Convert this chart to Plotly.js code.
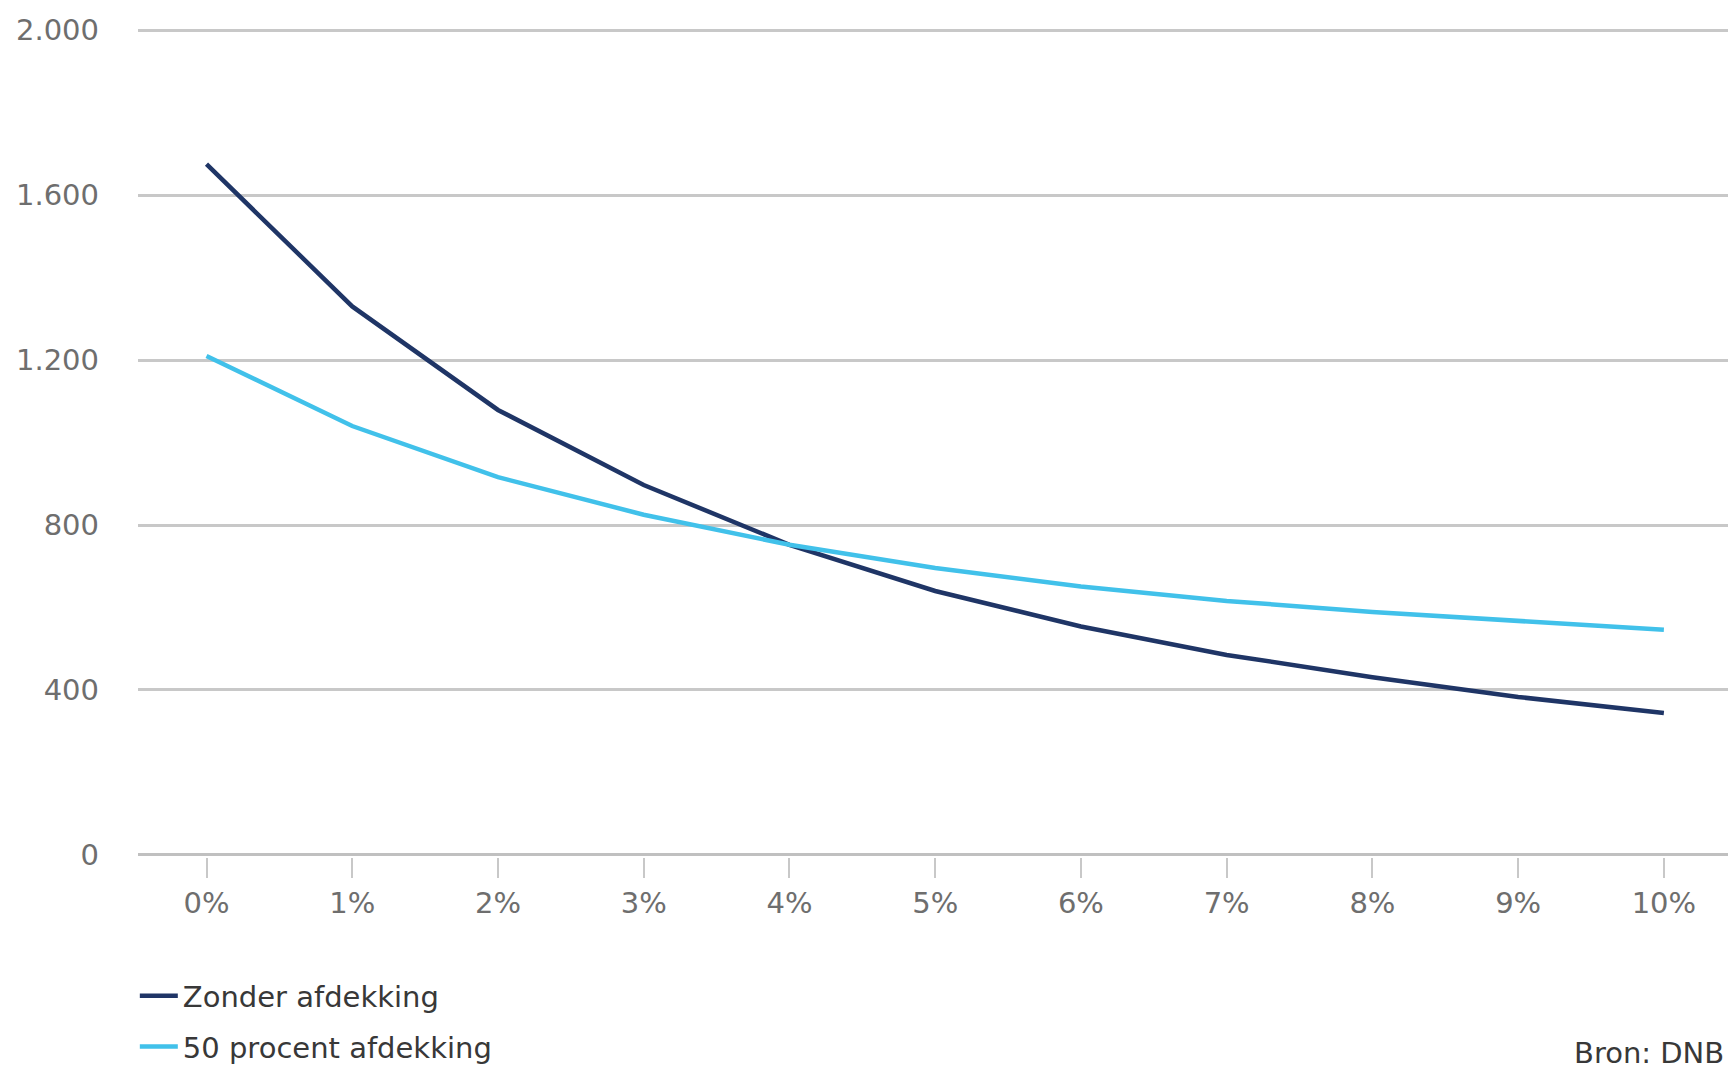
<!DOCTYPE html>
<html>
<head>
<meta charset="utf-8">
<script src="https://cdn.plot.ly/plotly-3.0.1.min.js"></script>
<style>
  html, body { margin: 0; padding: 0; background: #ffffff; }
  #chart { width: 1728px; height: 1069px; }
</style>
</head>
<body>
<div id="chart"></div>
<script>
// Data
const xValues = [0, 1, 2, 3, 4, 5, 6, 7, 8, 9, 10];
const xLabels = ["0%", "1%", "2%", "3%", "4%", "5%", "6%", "7%", "8%", "9%", "10%"];
const zonderAfdekking = [1675, 1330, 1079, 897, 752, 640, 554, 485, 431, 383, 344];
const vijftigProcentAfdekking = [1210, 1040, 916, 825, 752, 696, 651, 616, 589, 568, 546];
const yTickVals = [0, 400, 800, 1200, 1600, 2000];
const yTickLabels = ["0", "400", "800", "1.200", "1.600", "2.000"];
const seriesNames = ["Zonder afdekking", "50 procent afdekking"];
const sourceText = "Bron: DNB";

const FONT = "DejaVu Sans, Verdana, sans-serif";

const traces = [
  {
    x: xValues, y: zonderAfdekking, name: seriesNames[0],
    type: "scatter", mode: "lines", legendgroup: "a",
    line: { color: "#1f3566", width: 4.5, shape: "linear" },
    hoverinfo: "skip"
  },
  {
    x: xValues, y: vijftigProcentAfdekking, name: seriesNames[1],
    type: "scatter", mode: "lines", legendgroup: "b",
    line: { color: "#41c1ea", width: 4.5, shape: "linear" },
    hoverinfo: "skip"
  }
];

const layout = {
  width: 1728, height: 1069,
  paper_bgcolor: "#ffffff", plot_bgcolor: "#ffffff",
  margin: { l: 138, r: 0, t: 26, b: 212, pad: 0, autoexpand: false },
  font: { family: FONT, size: 29, color: "#6e6e6e" },
  showlegend: true,
  xaxis: {
    range: [-0.47, 10.44],
    tickvals: xValues, ticktext: xLabels,
    showgrid: false, zeroline: false,
    showline: false,
    ticks: "outside", ticklen: 20, tickwidth: 2, tickcolor: "#c8c8c8",
    ticklabelstandoff: 0,
    tickfont: { family: FONT, size: 29, color: "#6e6e6e" },
    automargin: false,
    fixedrange: true
  },
  yaxis: {
    range: [-5, 2010],
    tickvals: yTickVals, ticktext: yTickLabels,
    showgrid: true, gridcolor: "#c8c8c8", gridwidth: 3,
    zeroline: true, zerolinecolor: "#c0c0c0", zerolinewidth: 3,
    showline: false, ticks: "",
    ticklabelstandoff: 38,
    tickfont: { family: FONT, size: 29, color: "#6e6e6e" },
    automargin: false,
    fixedrange: true
  },
  legend: {
    orientation: "v",
    x: -0.002, xanchor: "left",
    y: -0.1365, yanchor: "top",
    font: { family: FONT, size: 29, color: "#383838" },
    bgcolor: "rgba(0,0,0,0)", borderwidth: 0,
    traceorder: "grouped", tracegroupgap: 10,
    itemwidth: 38
  },
  annotations: [
    {
      text: sourceText, xref: "paper", yref: "paper",
      x: 0.999, xanchor: "right",
      y: -0.236, yanchor: "middle",
      showarrow: false,
      font: { family: FONT, size: 29, color: "#383838" }
    }
  ]
};

Plotly.newPlot("chart", traces, layout, { displayModeBar: false, staticPlot: true });
</script>
</body>
</html>
